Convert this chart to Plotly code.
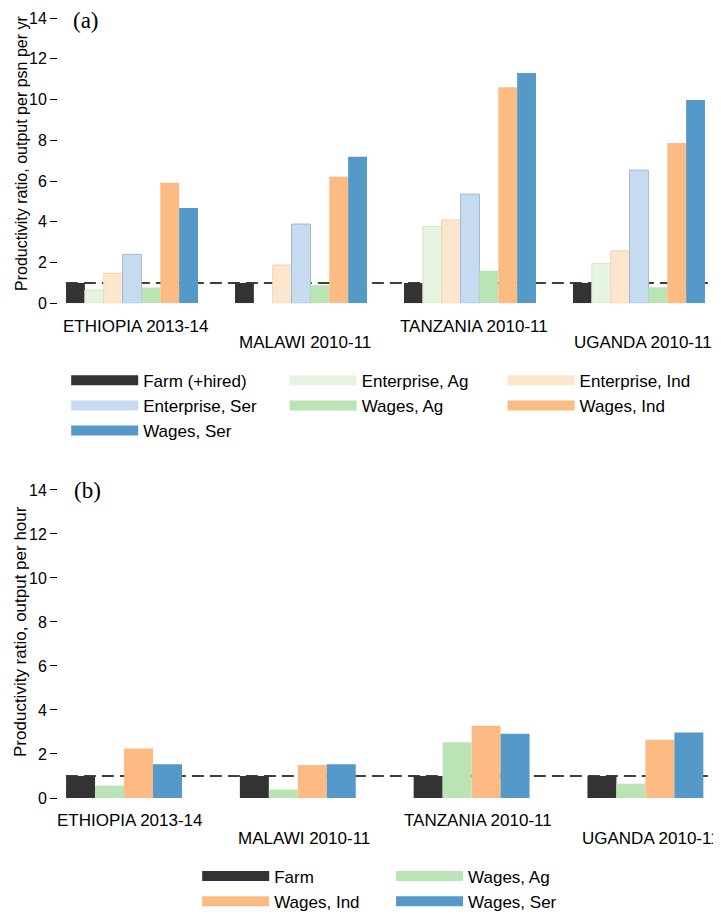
import plotly.graph_objects as go

countries = ["ETHIOPIA 2013-14", "MALAWI 2010-11", "TANZANIA 2010-11", "UGANDA 2010-11"]
label_row = [1, 2, 1, 2]  # labels alternate between two lines

# (a) productivity ratio, output per person per year (farm = 1)
farm_hired = [1.0, 1.0, 1.0, 1.0]
enterprise_ag = [0.65, None, 3.76, 1.96]
enterprise_ind = [1.47, 1.88, 4.09, 2.58]
enterprise_ser = [2.40, 3.89, 5.36, 6.54]
wages_ag = [0.78, 0.88, 1.60, 0.79]
wages_ind = [5.92, 6.21, 10.61, 7.87]
wages_ser = [4.68, 7.19, 11.30, 9.98]

# (b) productivity ratio, output per hour
farm_hr = [1.0, 1.0, 1.0, 1.0]
wages_ag_hr = [0.56, 0.38, 2.53, 0.65]
wages_ind_hr = [2.25, 1.50, 3.28, 2.65]
wages_ser_hr = [1.53, 1.53, 2.92, 2.98]

FONT = "Liberation Sans, Arial, sans-serif"
SERIF = "Liberation Serif, Times New Roman, serif"
C = {
    "farm": "#333333",
    "ent_ag": "#e5f5e0", "ent_ind": "#fee6ce", "ent_ser": "#c6dbef",
    "wag_ag": "#bae4b3", "wag_ind": "#fdbb84", "wag_ser": "#5599c8",
}
EDGE = {"ent_ag": "#d2e6cc", "ent_ind": "#efd4ba", "ent_ser": "#9fbad4"}

fig = go.Figure()

top = [
    ("Farm (+hired)", farm_hired, "farm", "legend"),
    ("Enterprise, Ag", enterprise_ag, "ent_ag", "legend2"),
    ("Enterprise, Ind", enterprise_ind, "ent_ind", "legend3"),
    ("Enterprise, Ser", enterprise_ser, "ent_ser", "legend"),
    ("Wages, Ag", wages_ag, "wag_ag", "legend2"),
    ("Wages, Ind", wages_ind, "wag_ind", "legend3"),
    ("Wages, Ser", wages_ser, "wag_ser", "legend"),
]
for name, vals, key, leg in top:
    fig.add_trace(go.Bar(x=countries, y=vals, name=name, marker_color=C[key],
                         marker_line=dict(color=EDGE.get(key, C[key]), width=1 if key in EDGE else 0),
                         showlegend=False, xaxis="x", yaxis="y"))

bottom = [
    ("Farm", farm_hr, "farm", "legend4"),
    ("Wages, Ag", wages_ag_hr, "wag_ag", "legend5"),
    ("Wages, Ind", wages_ind_hr, "wag_ind", "legend4"),
    ("Wages, Ser", wages_ser_hr, "wag_ser", "legend5"),
]
bw = 0.667 / len(bottom)
for i, (name, vals, key, leg) in enumerate(bottom):
    fig.add_trace(go.Bar(x=countries, y=vals, name=name, marker_color=C[key], marker_line_width=0,
                         width=bw, offset=-0.3335 + i * bw,
                         showlegend=False, xaxis="x2", yaxis="y2"))

# legend entries (wide swatches)
legend_order = [top[0], top[3], top[6], top[1], top[4], top[2], top[5]]
for name, vals, key, leg in legend_order:
    fig.add_trace(go.Scatter(x=[None], y=[None], mode="lines", name=name, legend=leg,
                             line=dict(color=C[key], width=18), xaxis="x", yaxis="y"))
for name, vals, key, leg in [bottom[0], bottom[2], bottom[1], bottom[3]]:
    fig.add_trace(go.Scatter(x=[None], y=[None], mode="lines", name=name, legend=leg,
                             line=dict(color=C[key], width=18), xaxis="x2", yaxis="y2"))

# reference line at ratio 1
for xr in ["x", "x2"]:
    yr = "y" if xr == "x" else "y2"
    fig.add_shape(type="line", xref=xr + " domain", yref=yr, x0=0.012, x1=1, y0=1, y1=1,
                  line=dict(color="black", width=1.5, dash="12px,6px"), layer="below")

# country labels
for xr, yr, xs, shifts in [("x", "y", 4, (-23.5, -38.8)), ("x2", "y2", 6, (-22.0, -40.5))]:
    for c, r in zip(countries, label_row):
        fig.add_annotation(x=c, y=0, xref=xr, yref=yr, text=c, showarrow=False,
                           xanchor="center", yanchor="middle", xshift=xs,
                           yshift=shifts[0] if r == 1 else shifts[1],
                           font=dict(size=17, family=FONT, color="black"))

fig.add_annotation(x=-0.0565, y=0.8206, xref="paper", yref="paper", textangle=-90, showarrow=False,
                   xanchor="center", yanchor="middle",
                   text="Productivity ratio, output per psn per yr",
                   font=dict(size=16, family=FONT, color="black"))
fig.add_annotation(x=-0.0565, y=0.2125, xref="paper", yref="paper", textangle=-90, showarrow=False,
                   xanchor="center", yanchor="middle",
                   text="Productivity ratio, output per hour",
                   font=dict(size=17, family=FONT, color="black"))
fig.add_annotation(x=0.0427, y=0.9898, xref="paper", yref="paper", text="(a)", showarrow=False,
                   xanchor="center", yanchor="middle", font=dict(size=23, family=SERIF, color="black"))
fig.add_annotation(x=0.0450, y=0.391, xref="paper", yref="paper", text="(b)", showarrow=False,
                   xanchor="center", yanchor="middle", font=dict(size=23, family=SERIF, color="black"))

yax = dict(range=[0, 14.3], tickvals=[0, 2, 4, 6, 8, 10, 12, 14], ticks="outside", ticklen=7,
           tickcolor="black", tickwidth=1, showline=False, showgrid=False, zeroline=False,
           tickfont=dict(size=16, family=FONT, color="black"))
xax = dict(showticklabels=False, showgrid=False, showline=False, zeroline=False, ticks="")

leg = dict(font=dict(size=17, family=FONT, color="black"), itemwidth=67, bgcolor="rgba(0,0,0,0)",
           xanchor="left", yanchor="top", orientation="v", tracegroupgap=0, traceorder="normal")

# the page adds an 8px body margin, so the figure is 8px smaller than the window
fig.update_layout(
    width=713, height=909,
    margin=dict(l=50, r=8, t=4, b=119, autoexpand=False),
    plot_bgcolor="white", paper_bgcolor="white",
    barmode="group", bargap=0.219, bargroupgap=0,
    xaxis=dict(xax, domain=[0, 1], range=[-0.438, 3.438], anchor="y"),
    yaxis=dict(yax, domain=[0.6294, 1], anchor="x"),
    xaxis2=dict(xax, domain=[0, 1], range=[-0.380, 3.389], anchor="y2"),
    yaxis2=dict(yax, domain=[0, 0.4003], anchor="x2"),
    legend=dict(leg, x=0.0125, y=0.5537),
    legend2=dict(leg, x=0.346, y=0.5537),
    legend3=dict(leg, x=0.6788, y=0.5537),
    legend4=dict(leg, x=0.2125, y=-0.077),
    legend5=dict(leg, x=0.5085, y=-0.077),
)

fig.write_html("out.html")
